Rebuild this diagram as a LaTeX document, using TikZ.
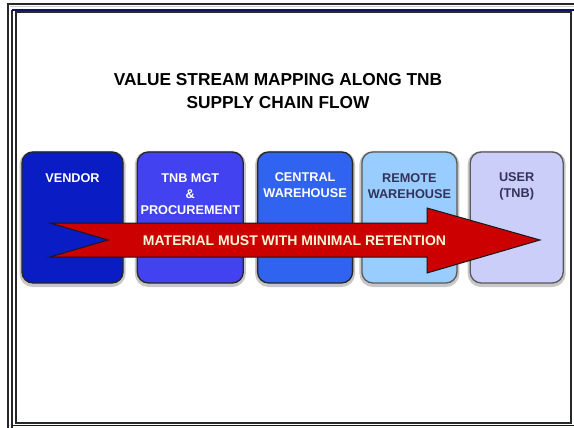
\documentclass[tikz,border=0pt]{standalone}
\usepackage{fontspec}
\setmainfont{Liberation Sans}
\usepackage{tikz}
\usetikzlibrary{positioning}
\definecolor{framedark}{RGB}{40, 40, 40}
\definecolor{framenavy}{RGB}{16, 16, 110}
\definecolor{vendorblue}{RGB}{10, 28, 196}
\definecolor{mgtblue}{RGB}{66, 66, 240}
\definecolor{centralblue}{RGB}{48, 100, 240}
\definecolor{remoteblue}{RGB}{153, 204, 255}
\definecolor{userlilac}{RGB}{204, 206, 250}
\definecolor{flowred}{RGB}{204, 0, 0}
\definecolor{flowtext}{RGB}{255, 245, 215}
\definecolor{darklabel}{RGB}{50, 50, 90}

\begin{document}
\begin{tikzpicture}[x=1pt, y=-1pt,
    stagebox/.style={draw=black!85, line width=1.3pt, rounded corners=11pt,
        minimum height=131pt, inner sep=0pt,
        preaction={draw=black!22, line width=5pt, transform canvas={yshift=-1.5pt}}},
    stagetext/.style={font=\bfseries\fontsize{12.7}{16}\selectfont, align=center, inner sep=0pt},
    titletext/.style={font=\bfseries\fontsize{17.3}{23}\selectfont, align=center, inner sep=0pt}]
    \useasboundingbox (0,0) rectangle (574,428);

    % frame
    \draw[framedark, line width=2pt] (8,428) -- (8,4.3) -- (574,4.3);
    \draw[black!20, line width=1pt] (10,7) -- (574,7);
    \draw[framedark, line width=1.8pt] (12,428) -- (12,10);
    \draw[framenavy, line width=1.6pt] (12,10) -- (574,10);
    \draw[framenavy, line width=1.8pt] (12,425.5) -- (574,425.5);
    \draw[framedark, line width=2pt] (15.7,423) -- (15.7,12.5) -- (571,12.5) -- (571,423) -- cycle;

    % title
    \node[titletext] (title) at (278,91) {VALUE STREAM MAPPING ALONG TNB\\SUPPLY CHAIN FLOW};

    % stages
    \node[stagebox, fill=vendorblue, minimum width=101pt] (vendor) at (72.5,217.5) {};
    \node[stagebox, fill=mgtblue, minimum width=106pt, right=13pt of vendor] (mgt) {};
    \node[stagebox, fill=centralblue, minimum width=95pt, right=13pt of mgt] (central) {};
    \node[stagebox, fill=remoteblue, draw=black!65, minimum width=95pt, right=8pt of central] (remote) {};
    \node[stagebox, fill=userlilac, draw=black!65, minimum width=93pt, right=12pt of remote] (user) {};

    \node[stagetext, text=white, below=22pt of vendor.north] (vendorlbl) {VENDOR};
    \node[stagetext, text=white, below=22pt of mgt.north] (mgtlbl) {TNB MGT\\\&\\PROCUREMENT};
    \node[stagetext, text=white, below=21pt of central.north] (centrallbl) {CENTRAL\\WAREHOUSE};
    \node[stagetext, text=darklabel, below=22pt of remote.north] (remotelbl) {REMOTE\\WAREHOUSE};
    \node[stagetext, text=darklabel, below=21pt of user.north] (userlbl) {USER\\(TNB)};

    % flow arrow
    \draw[fill=flowred, draw=black!90, line width=1pt, line join=miter]
        (50,223) -- (427,223) -- (427,208) -- (540,240) -- (427,273)
        -- (427,257) -- (50,257) -- (108,240) -- cycle;
    \node[stagetext, text=flowtext, font=\bfseries\fontsize{14}{16}\selectfont] (flowlbl) at (294.5,240.5) {MATERIAL MUST WITH MINIMAL RETENTION};
\end{tikzpicture}
\end{document}
